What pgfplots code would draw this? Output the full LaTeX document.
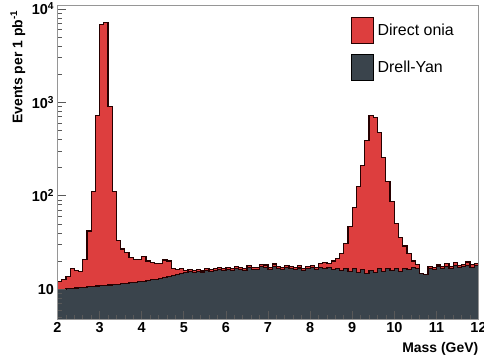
\documentclass[border=0pt]{standalone}
\usepackage{pgfplots}
\pgfplotsset{compat=1.18}
\usepackage{pgfplotstable}
\usepackage{fontspec}
\setmainfont{Liberation Sans}

\definecolor{oniared}{RGB}{221,62,62}
\definecolor{dyslate}{RGB}{58,68,76}
\definecolor{framegray}{RGB}{150,150,150}

% Dimuon mass spectrum, 0.1 GeV bins (left edges).
% dy  = Drell-Yan continuum
% top = Drell-Yan + direct onia (stacked)
\pgfplotstableread{
m     dy     top
2.0   9.9    12.0
2.1   10.0   12.8
2.2   10.1   13.6
2.3   10.2   16.5
2.4   10.3   16.0
2.5   10.4   15.5
2.6   10.5   21
2.7   10.6   42
2.8   10.7   110
2.9   10.8   720
3.0   10.9   6800
3.1   11.0   7200
3.2   11.1   900
3.3   11.2   110
3.4   11.3   33
3.5   11.4   27
3.6   11.6   24.5
3.7   11.7   22
3.8   11.8   21
3.9   12.0   21
4.0   12.2   22.5
4.1   12.4   20
4.2   12.6   19.5
4.3   12.8   19
4.4   13.0   19
4.5   13.3   20.5
4.6   13.6   20
4.7   14.0   16.8
4.8   14.4   16.2
4.9   14.8   16.5
5.0   15.0   16.0
5.1   15.4   16.3
5.2   15.2   15.8
5.3   15.6   16.2
5.4   15.3   16.0
5.5   15.9   16.6
5.6   15.5   16.2
5.7   16.0   16.8
5.8   16.3   17.0
5.9   15.8   16.5
6.0   16.4   17.2
6.1   16.0   16.8
6.2   16.6   17.5
6.3   16.2   17.0
6.4   15.9   16.6
6.5   17.0   18.0
6.6   16.4   17.2
6.7   16.2   17.0
6.8   17.4   18.5
6.9   17.2   18.2
7.0   16.3   17.0
7.1   17.5   18.6
7.2   16.8   17.6
7.3   16.4   17.2
7.4   17.1   18.0
7.5   16.6   17.4
7.6   16.2   17.0
7.7   16.9   17.8
7.8   16.0   16.8
7.9   16.6   17.5
8.0   17.0   18.0
8.1   16.3   17.2
8.2   17.2   18.8
8.3   16.5   19.5
8.4   17.0   19.0
8.5   16.2   20.0
8.6   16.8   21.5
8.7   15.8   24
8.8   16.5   31
8.9   15.6   47
9.0   16.8   75
9.1   15.2   125
9.2   16.4   210
9.3   14.8   390
9.4   16.0   720
9.5   15.0   690
9.6   16.6   480
9.7   15.5   255
9.8   16.8   142
9.9   15.8   86
10.0  16.5   50
10.1  15.4   36
10.2  16.8   29
10.3  16.2   24
10.4  17.0   20
10.5  16.5   18.5
10.6  14.6   14.8
10.7  14.3   14.5
10.8  16.8   17.5
10.9  16.2   17.0
11.0  17.4   18.2
11.1  16.6   17.5
11.2  17.6   18.8
11.3  16.8   17.6
11.4  17.8   19.2
11.5  17.0   18.0
11.6  17.4   18.5
11.7  18.0   19.6
11.8  17.2   18.4
11.9  17.8   19.0
12.0  17.8   19.0
}\spectrum

\begin{document}
\begin{tikzpicture}
\begin{axis}[
  name=ax,
  scale only axis,
  width=421bp, height=314bp,
  xmin=2, xmax=12,
  ymode=log, ymin=4.8, ymax=11000,
  axis on top,
  axis line style={draw=framegray, line width=0.9bp},
  tick pos=left,
  tick align=inside,
  major tick length=8bp,
  minor tick length=4bp,
  tick style={draw=black!65, line width=0.7bp},
  xtick={2,3,...,12},
  xticklabels={2,3,4,5,6,7,8,9,10,11,12},
  minor x tick num=4,
  ytick={10,100,1000,10000},
  yticklabels={10,10\textsuperscript{2},10\textsuperscript{3},10\textsuperscript{4}},
  minor ytick={5,6,7,8,9,20,30,40,50,60,70,80,90,200,300,400,500,600,700,800,900,2000,3000,4000,5000,6000,7000,8000,9000},
  tick label style={font=\fontsize{14.5}{14.5}\selectfont\bfseries},
  xlabel={Mass (GeV)},
  xlabel style={font=\fontsize{14}{14}\selectfont\bfseries,
    at={(axis description cs:1,0)}, anchor=north east, yshift=-20bp, inner xsep=0pt},
  ylabel={Events per 1 pb\textsuperscript{-1}},
  ylabel style={font=\fontsize{14}{14}\selectfont\bfseries,
    at={(axis description cs:-0.094,0.993)}, anchor=east},
  legend style={at={(axis description cs:0.696,0.961)}, anchor=north west,
    draw=none, fill=none, font=\fontsize{16}{16}\selectfont,
    row sep=10bp, inner sep=0pt,
    nodes={inner xsep=4bp, inner ysep=0pt}},
  legend cell align=left,
]
\addplot[const plot mark left, fill=oniared, draw=black!85!red, line width=1.2bp,
  legend image code/.code={\draw[fill=oniared, draw=black!85!red, line width=0.9bp]
    (0bp,-13bp) rectangle (22bp,13bp);}]
  table[x=m, y=top]{\spectrum} \closedcycle;
\addlegendentry{Direct onia}
\addplot[const plot mark left, fill=dyslate, draw=black!85!red, line width=1.2bp,
  legend image code/.code={\draw[fill=dyslate, draw=black, line width=0.9bp]
    (0bp,-13bp) rectangle (22bp,13bp);}]
  table[x=m, y=dy]{\spectrum} \closedcycle;
\addlegendentry{Drell-Yan}
\end{axis}
\pgfresetboundingbox
\path ([xshift=-57.5bp,yshift=-37bp]ax.south west) rectangle ([xshift=5.5bp,yshift=5bp]ax.north east);
\end{tikzpicture}
\end{document}
